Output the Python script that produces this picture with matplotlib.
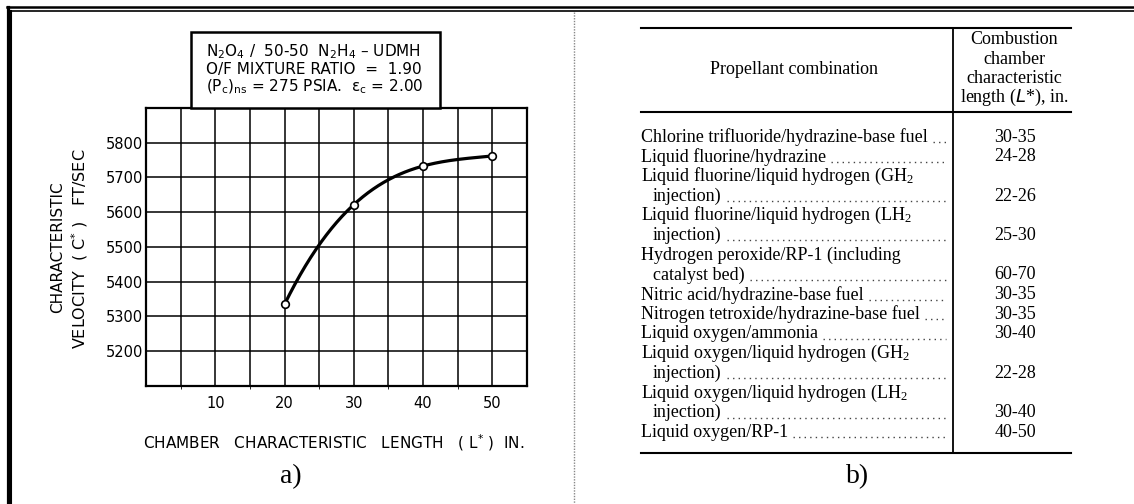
import numpy as np
import matplotlib
matplotlib.use("Agg")
import matplotlib.pyplot as plt
from matplotlib.patches import Rectangle

plt.rcParams['mathtext.default'] = 'regular'

# a) characteristic velocity vs chamber characteristic length
L_star = [20, 30, 40, 50]
c_star = [5335, 5622, 5733, 5762]
x_ticks = [10, 20, 30, 40, 50]
y_ticks = [5200, 5300, 5400, 5500, 5600, 5700, 5800]
box_lines = [
    r"N$_2$O$_4$ /  50-50  N$_2$H$_4$ – UDMH",
    "O/F MIXTURE RATIO  =  1.90",
    r"(P$_c$)$_{ns}$ = 275 PSIA.  ε$_c$ = 2.00",
]

# b) table of L* by propellant combination
propellants = [
    "Chlorine trifluoride/hydrazine-base fuel",
    "Liquid fluorine/hydrazine",
    "Liquid fluorine/liquid hydrogen (GH$_2$\ninjection)",
    "Liquid fluorine/liquid hydrogen (LH$_2$\ninjection)",
    "Hydrogen peroxide/RP-1 (including\ncatalyst bed)",
    "Nitric acid/hydrazine-base fuel",
    "Nitrogen tetroxide/hydrazine-base fuel",
    "Liquid oxygen/ammonia",
    "Liquid oxygen/liquid hydrogen (GH$_2$\ninjection)",
    "Liquid oxygen/liquid hydrogen (LH$_2$\ninjection)",
    "Liquid oxygen/RP-1",
]
lstar_ranges = ["30-35", "24-28", "22-26", "25-30", "60-70", "30-35",
                "30-35", "30-40", "22-28", "30-40", "40-50"]
header_left = "Propellant combination"
header_right = ["Combustion", "chamber", "characteristic", "length ($\\it{L}$*), in."]

W, H = 1134, 504
fig = plt.figure(figsize=(W / 100, H / 100), dpi=100)

# chart axes
ax = fig.add_axes([146 / W, 1 - 386 / H, (527 - 146) / W, (386 - 108) / H])
ax.set_xlim(0, 55)
ax.set_ylim(5100, 5900)
ax.set_xticks(np.arange(5, 55, 5), minor=True)
ax.set_xticks(x_ticks)
ax.set_yticks(y_ticks)
ax.tick_params(length=0, labelsize=10.5, pad=2)
ax.tick_params(axis='x', pad=7)
ax.grid(True, which='both', color='black', linewidth=1.1)
for s in ax.spines.values():
    s.set_linewidth(1.6)
xs = np.linspace(20, 50, 200)
fit = np.polyval(np.polyfit(L_star, c_star, 3), xs)
ax.plot(xs, fit, color='black', linewidth=2.3, zorder=3)
ax.plot(L_star, c_star, 'o', markersize=5.5, markerfacecolor='white',
        markeredgecolor='black', markeredgewidth=1.2, zorder=4)

# overlay in pixel coordinates for frame, labels and table
ov = fig.add_axes([0, 0, 1, 1], zorder=5)
ov.set_xlim(0, W)
ov.set_ylim(H, 0)
ov.axis('off')
ov.patch.set_visible(False)

# outer double frame (top and left only)
ov.plot([7, W], [7, 7], color='black', linewidth=1.8)
ov.plot([11, W], [11, 11], color='black', linewidth=1.2)
ov.plot([7.5, 7.5], [7, H], color='black', linewidth=2.3)
ov.plot([11, 11], [11, H], color='black', linewidth=1.5)
ov.plot([574, 574], [12, H], color='#888888', linewidth=1.0, linestyle=(0, (1, 1)))

# chart labels
ov.text(334, 443, "CHAMBER   CHARACTERISTIC   LENGTH   ( L$^{*}$ )  IN.",
        ha='center', va='center', fontsize=11)
ov.text(58, 247, "CHARACTERISTIC", rotation=90, ha='center', va='center', fontsize=11)
ov.text(80, 249, "VELOCITY  ( C$^{*}$ )   FT/SEC", rotation=90, ha='center',
        va='center', fontsize=11.5)
ov.add_patch(Rectangle((191, 32), 249, 76, facecolor='white', edgecolor='black',
                       linewidth=1.8))
for i, line in enumerate(box_lines):
    ov.text(206, 52 + i * 17.5, line, ha='left', va='center', fontsize=11)
ov.text(291, 477, "a)", ha='center', va='center', fontsize=20,
        family='Liberation Serif')
ov.text(858, 477, "b)", ha='center', va='center', fontsize=20,
        family='Liberation Serif')

# table
serif = 'Liberation Serif'
fs = 13
tl, tr, tc = 641, 1071, 953
ov.plot([tl, tr], [28, 28], color='black', linewidth=1.5)
ov.plot([tl, tr], [112, 112], color='black', linewidth=1.5)
ov.plot([tl, tr], [453, 453], color='black', linewidth=1.5)
ov.plot([tc, tc], [28, 453], color='black', linewidth=1.3)
ov.text(794, 69, header_left, ha='center', va='center', fontsize=fs, family=serif)
for i, line in enumerate(header_right):
    ov.text(1014, 40 + i * 19.3, line, ha='center', va='center', fontsize=fs,
            family=serif)

fig.canvas.draw()
rend = fig.canvas.get_renderer()
inv = ov.transData.inverted()
row_h = 19.7
y = 137
for name, val in zip(propellants, lstar_ranges):
    parts = name.split("\n")
    for j, part in enumerate(parts):
        xpos = tl if j == 0 else tl + 12
        t = ov.text(xpos, y, part, ha='left', va='center', fontsize=fs, family=serif)
        if j == len(parts) - 1:
            bb = t.get_window_extent(renderer=rend)
            x_end = inv.transform((bb.x1, bb.y0))[0]
            ov.plot([x_end + 5, 946], [y + 5, y + 5], color='#444444',
                    linewidth=1.0, linestyle=(0, (1, 3)))
            ov.text(1015, y, val, ha='center', va='center', fontsize=fs,
                    family=serif)
        if j < len(parts) - 1:
            y += row_h
    y += row_h

fig.savefig("out.png", dpi=100)
